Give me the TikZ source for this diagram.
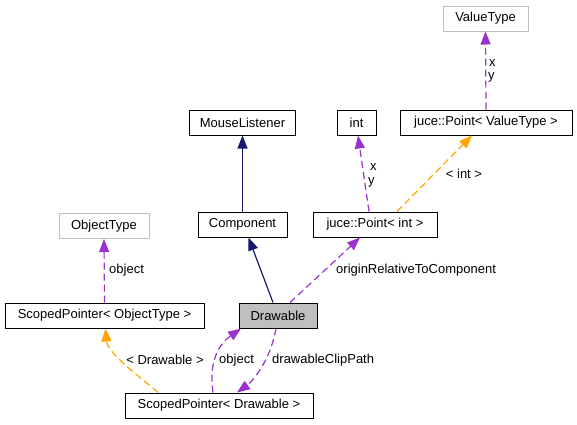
\documentclass[tikz,border=0pt]{standalone}
\usepackage{fontspec}
\setmainfont{Liberation Sans}
\usetikzlibrary{arrows.meta}
\definecolor{edgepurple}{HTML}{9A32CD}
\definecolor{edgeorange}{HTML}{FFA500}
\definecolor{edgenavy}{HTML}{191970}
\definecolor{boxgray}{HTML}{BFBFBF}
\begin{document}
\begin{tikzpicture}[x=1pt,y=-1pt,
  every node/.style={font=\fontsize{13}{15}\selectfont, inner sep=0pt},
  cls/.style={draw=black, line width=1pt, fill=white, minimum height=25pt, anchor=center},
  ext/.style={draw=boxgray, line width=1pt, fill=white, minimum height=25pt, anchor=center},
  cur/.style={draw=black, line width=1pt, fill=boxgray, minimum height=25pt, anchor=center},
  tip/.style={-{Triangle[length=13pt,width=10pt]}},
  usage/.style={tip, draw=edgepurple, line width=1.2pt, dash pattern=on 7pt off 4pt},
  templ/.style={tip, draw=edgeorange, line width=1.2pt, dash pattern=on 7pt off 4pt},
  inherit/.style={tip, draw=edgenavy, line width=1.2pt},
  lbl/.style={anchor=west}
]
\useasboundingbox (0,0) rectangle (577,424);

\node[ext, minimum width=85pt] (vt) at (485.5,18.5) {ValueType};
\node[cls, minimum width=172pt] (pvt) at (486,122.5) {juce::Point< ValueType >};
\node[cls, minimum width=39pt] (int) at (356.5,122.5) {int};
\node[cls, minimum width=106pt] (ml) at (242.5,122.5) {MouseListener};
\node[cls, minimum width=89pt] (comp) at (242.5,224.5) {Component};
\node[cls, minimum width=124pt] (pint) at (375,224.5) {juce::Point< int >};
\node[ext, minimum width=90pt] (ot) at (104,226) {ObjectType};
\node[cls, minimum width=199pt] (spot) at (104.5,315.5) {ScopedPointer< ObjectType >};
\node[cur, minimum width=78pt] (dr) at (278,315.5) {Drawable};
\node[cls, minimum width=188pt] (spd) at (219,405.5) {ScopedPointer< Drawable >};

% edges
\draw[usage] (pvt.north) -- (vt.south);
\node[lbl] (lx1) at (489,63) {x};
\node[lbl] (ly1) at (488,77) {y};

\draw[usage] ([xshift=-6pt]pint.north) -- ([xshift=1.5pt]int.south);
\node[lbl] (lx2) at (370,167) {x};
\node[lbl] (ly2) at (368,182) {y};

\draw[templ] ([xshift=22pt]pint.north) -- ([xshift=-14pt]pvt.south);
\node (lint) at (464,174) {< int >};

\draw[inherit] (comp.north) -- (ml.south);
\draw[inherit] ([xshift=-5pt]dr.north) -- ([xshift=6pt]comp.south);

\draw[usage] ([xshift=12pt]dr.north) -- ([xshift=-15pt]pint.south);
\node[lbl] (lorc) at (336,270) {originRelativeToComponent};

\draw[usage] (spot.north) -- (ot.south);
\node[lbl] (lobj1) at (109,270) {object};

\draw[templ] ([xshift=-61pt]spd.north) .. controls +(-8,-8) and +(2,26) .. ([xshift=1pt]spot.south);
\node (ldr) at (165,360) {< Drawable >};

\draw[usage] ([xshift=-6pt]spd.north) .. controls +(-6,-40) and +(-14,10) .. ([xshift=-37pt]dr.south);
\node[lbl] (lobj2) at (219,360) {object};

\draw[usage] ([xshift=-2pt]dr.south) .. controls +(-6,34) and +(14,-10) .. ([xshift=18pt]spd.north);
\node[lbl] (ldcp) at (272,360) {drawableClipPath};
\end{tikzpicture}
\end{document}
